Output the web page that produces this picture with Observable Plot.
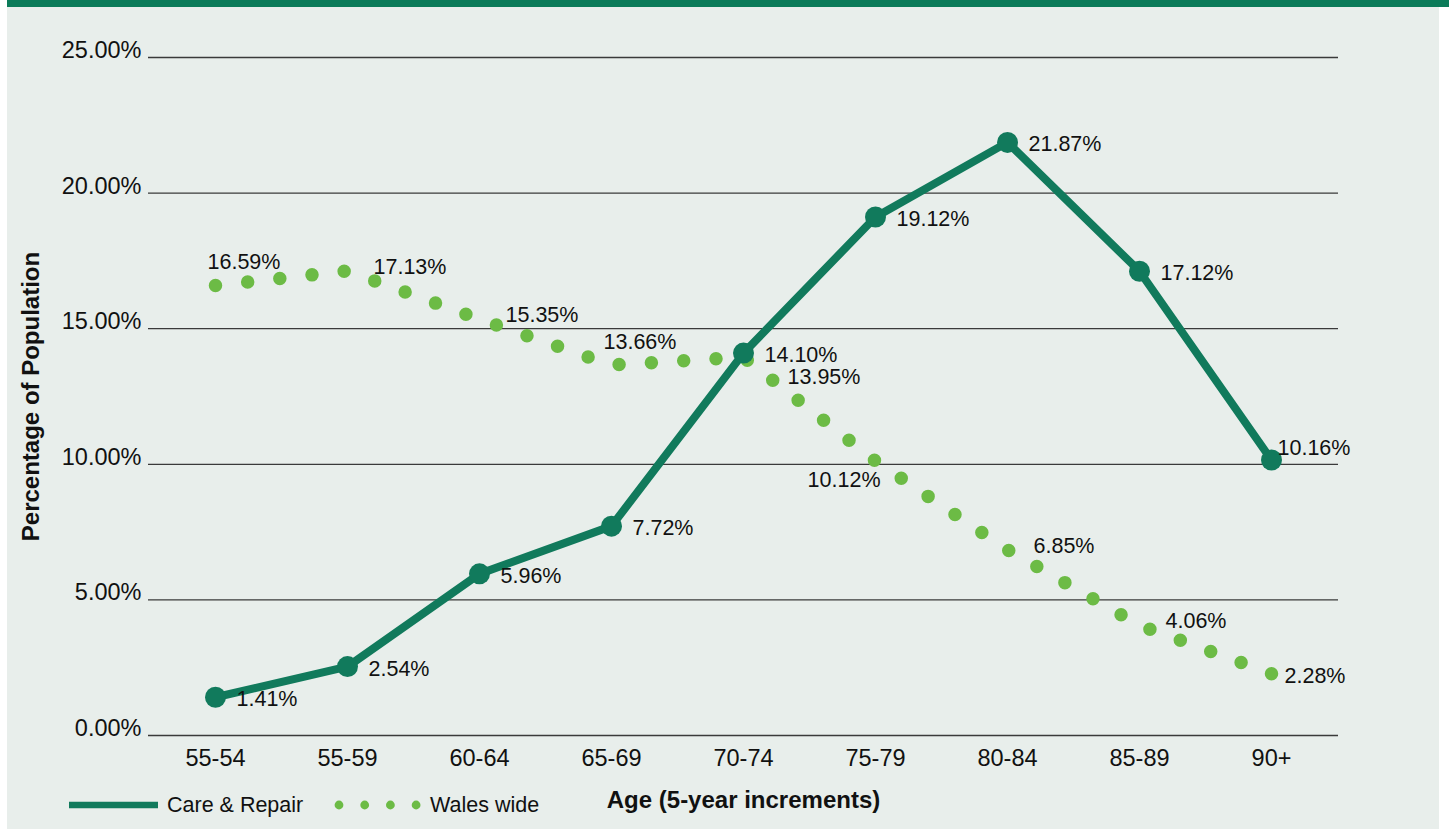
<!DOCTYPE html>
<html>
<head>
<meta charset="utf-8">
<script src="https://cdn.jsdelivr.net/npm/d3@7"></script>
<script src="https://cdn.jsdelivr.net/npm/@observablehq/plot@0.6"></script>
<style>
html, body { margin: 0; padding: 0; background: #ffffff; }
#wrap { position: relative; width: 1449px; height: 829px; overflow: hidden; font-family: "Liberation Sans", Arial, sans-serif; }
#panel { position: absolute; left: 7px; top: 0; width: 1432px; height: 829px; background: #e8eeeb; }
#band { position: absolute; left: 7px; top: 0; width: 1442px; height: 7px; background: #0b7b59; }
#chart { position: absolute; left: 0; top: 0; }
#legend { position: absolute; left: 0; top: 792px; width: 600px; height: 26px; font-size: 21.5px; color: #111; white-space: nowrap; }
#legend > * { position: absolute; top: 0; }
#legend span { line-height: 26px; }
#legend svg { display: block; }
</style>
</head>
<body>
<div id="wrap">
  <div id="panel"></div>
  <div id="band"></div>
  <div id="chart"></div>
  <div id="legend"></div>
</div>
<script>
// ---- data ----
const ageGroups = ["55-54", "55-59", "60-64", "65-69", "70-74", "75-79", "80-84", "85-89", "90+"];
const careRepair = [1.41, 2.54, 5.96, 7.72, 14.10, 19.12, 21.87, 17.12, 10.16];
const walesWide = [16.59, 17.13, 15.35, 13.66, 13.95, 10.12, 6.85, 4.06, 2.28];
const yTicks = [0, 5, 10, 15, 20, 25];
const seriesNames = ["Care & Repair", "Wales wide"];
const xTitle = "Age (5-year increments)";
const yTitle = "Percentage of Population";

const careColor = "#117a5c";
const walesColor = "#6cbb45";
const font = "'Liberation Sans', Arial, sans-serif";

const rows = ageGroups.map((age, i) => ({ i, age, care: careRepair[i], wales: walesWide[i] }));
const pct = d => d.toFixed(2) + "%";

const labelStyle = { fontSize: 21.5, fill: "#111", textAnchor: "start" };

const chart = Plot.plot({
  width: 1449,
  height: 829,
  marginLeft: 148,
  marginRight: 111,
  marginTop: 57,
  marginBottom: 94,
  style: { background: "transparent", fontFamily: font, color: "#111", overflow: "visible" },
  x: { type: "point", domain: ageGroups, padding: 0.5, label: null },
  y: { domain: [0, 25], ticks: yTicks, label: null },
  marks: [
    Plot.ruleY(yTicks, { stroke: "#3a3a3a", strokeWidth: 1.3 }),
    Plot.axisY({ ticks: yTicks, tickSize: 0, tickPadding: 7, tickFormat: pct, fontSize: 23.5, dy: -7, label: null }),
    Plot.axisX({ tickSize: 0, tickPadding: 14, fontSize: 23.5, label: null }),
    Plot.text([yTitle], { frameAnchor: "left", textAnchor: "middle", lineAnchor: "middle", dx: -117, rotate: -90, fontSize: 24, fontWeight: "bold", fill: "#111" }),
    Plot.text([xTitle], { frameAnchor: "bottom", lineAnchor: "middle", dy: 65, fontSize: 24, fontWeight: "bold", fill: "#111" }),
    // Wales wide dotted line
    Plot.line(rows, { x: "age", y: "wales", stroke: walesColor, strokeWidth: 13.5, strokeDasharray: "0 32", strokeLinecap: "round", className: "wales-line" }),
    // Care & Repair solid line with markers
    Plot.line(rows, { x: "age", y: "care", stroke: careColor, strokeWidth: 8 }),
    Plot.dot(rows, { x: "age", y: "care", r: 10.5, fill: careColor }),
    // Care & Repair labels
    Plot.text(rows.filter(d => d.i < 8), { x: "age", y: "care", text: d => pct(d.care), dx: 21, dy: 2, ...labelStyle }),
    Plot.text(rows.filter(d => d.i === 8), { x: "age", y: "care", text: d => pct(d.care), dx: 6, dy: -12, ...labelStyle }),
    // Wales wide labels
    Plot.text(rows.filter(d => d.i === 0 || d.i === 3), { x: "age", y: "wales", text: d => pct(d.wales), dx: -8, dy: -23, ...labelStyle }),
    Plot.text(rows.filter(d => [1, 2, 6, 7].includes(d.i)), { x: "age", y: "wales", text: d => pct(d.wales), dx: 26, dy: -4, ...labelStyle }),
    Plot.text(rows.filter(d => d.i === 8), { x: "age", y: "wales", text: d => pct(d.wales), dx: 13, dy: 2, ...labelStyle }),
    Plot.text(rows.filter(d => d.i === 4), { x: "age", y: "wales", text: d => pct(d.wales), dx: 44, dy: 20, ...labelStyle }),
    Plot.text(rows.filter(d => d.i === 5), { x: "age", y: "wales", text: d => pct(d.wales), dx: 5, dy: 19, ...labelStyle, textAnchor: "end" })
  ]
});
document.getElementById("chart").appendChild(chart);

// make the dot spacing fit the path so a dot lands on both ends
const wp = chart.querySelector(".wales-line path");
if (wp && wp.getTotalLength) {
  const L = wp.getTotalLength();
  const gap = L / Math.round(L / 32);
  wp.setAttribute("stroke-dasharray", `0 ${gap}`);
}

// ---- legend ----
const legend = document.getElementById("legend");
const legendDots = [0, 1, 2, 3].map(k => `<circle cx="${7 + k * 25.7}" cy="13" r="4.4" fill="${walesColor}"/>`).join("");
legend.innerHTML =
  `<svg width="89" height="26" style="left:69px"><line x1="0" x2="89" y1="13" y2="13" stroke="${careColor}" stroke-width="6.5"/></svg>` +
  `<span style="left:167px">${seriesNames[0].replace("&", "&amp;")}</span>` +
  `<svg width="90" height="26" style="left:332px">${legendDots}</svg>` +
  `<span style="left:430px">${seriesNames[1]}</span>`;
</script>
</body>
</html>
